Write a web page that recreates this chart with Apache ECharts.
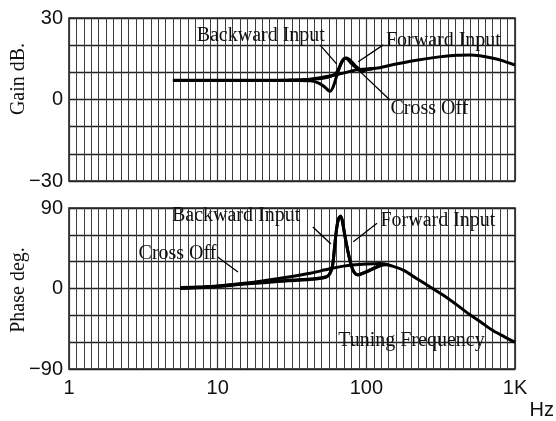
<!DOCTYPE html>
<html><head><meta charset="utf-8">
<script src="https://cdn.jsdelivr.net/npm/echarts@6/dist/echarts.min.js"></script>
<style>html,body{margin:0;padding:0;background:#fff}#c{width:556px;height:421px}</style>
</head><body><div id="c"></div>
<script>
// ---- data ----
const xTickValues = [1, 10, 100, 1000];
const xTickLabels = ['1', '10', '100', '1K'];
const gainTicks = [-30, 0, 30];
const phaseTicks = [-90, 0, 90];

// [frequency Hz, gain dB]
const gainCrossOff = [[5,7.0],[8,7.0],[12,7.0],[20,7.0],[30,7.1],[40,7.4],[50,8.1],[60,8.9],[70,9.7],[86,10.9],[100,11.2],[123,11.7],[150,12.8],[207,14.3],[300,15.6],[404,16.3],[500,16.4],[580,16.1],[700,15.3],[800,14.5],[1000,12.7]];
const gainBackward = [[5,7.0],[20,7.0],[35,7.0],[42,6.9],[47,6.2],[52,4.8],[57,3.0],[60,4.8],[63,8.5],[66,11.8],[69,14.3],[72,15.2],[75,14.8],[79,13.4],[85,11.8],[93,10.3],[100,10.9],[110,11.3]];
const gainForward = [[5,7.1],[30,7.2],[45,7.5],[55,8.2],[61,9.2],[64,10.5],[67,12.8],[70,14.6],[73,15.3],[76,14.9],[80,13.8],[86,12.0],[94,10.8],[105,11.2],[115,11.5]];

// [frequency Hz, phase deg]
const phaseCrossOff = [[5.6,0.5],[8,1.8],[10,2.8],[15,5.8],[20,8.5],[30,12.8],[42,17],[50,20],[60,23],[70,25],[80,26.3],[100,27.5],[125,28],[150,25],[180,20],[216,11.5],[250,5],[326,-7],[400,-17.5],[490,-28.5],[600,-38.5],[710,-47],[850,-54],[1000,-60]];
const phaseBackward = [[5.6,0],[8,1.2],[10,2.2],[15,5.0],[20,6.5],[30,8.8],[42,10],[50,11.5],[54,13],[57,17],[59.5,27],[61.5,50],[63.5,70],[65.5,79],[67.5,80],[69.5,72],[72.5,55],[76,38],[79.5,25],[83,18],[88,15],[96,17.5],[105,20.5],[115,23.5],[126,26.3],[140,26.5]];
const phaseForward = [[5.6,1],[10,2.5],[15,5.4],[20,7],[30,9.3],[42,10.5],[52,12.5],[56,15],[59,24],[61,45],[63,66],[65,78],[67,81],[69,76],[71.5,60],[75,42],[78.5,28],[82,19],[87,15.5],[95,17],[105,20],[118,24],[130,26.8]];

// annotations: [text, freq, value]
const gainNotes = [['Backward Input',19.5,23.4],['Forward Input',330,21.5],['Cross Off',266,-3.5]];
const gainLeaders = [[[48.7,20.1],[63.1,13.1]],[[130,20.1],[88.2,13.9]],[[144,-0.2],[88.2,10.9]]];
const phaseNotes = [['Backward Input',13.3,81],['Forward Input',303,75.5],['Cross Off',5.37,38.6],['Tuning Frequency',201,-58.7]];
const phaseLeaders = [[[43.7,68.8],[57.8,49.8]],[[118,72.9],[81.7,52.3]],[[10,35.2],[13.7,18.5]]];

// ---- chart ----
const SERIF = '"Liberation Serif","Times New Roman",serif';
const SANS = '"Liberation Sans",Arial,sans-serif';
const minus = v => v < 0 ? '\u2212' + Math.abs(v) : String(v);

function gridX(gi) {
  return {
    gridIndex: gi, type: 'value', min: 0, max: 3, interval: 1,
    axisLine: {show: false}, axisTick: {show: false}, axisLabel: {show: false},
    splitLine: {show: true, lineStyle: {color: '#333', width: 1.2}},
    minorTick: {show: false, splitNumber: 20},
    minorSplitLine: {show: true, lineStyle: {color: '#3c3c3c', width: 1}}
  };
}
function logX(gi, labels) {
  return {
    gridIndex: gi, type: 'log', logBase: 10, min: 1, max: 1000,
    axisLine: {show: false}, axisTick: {show: false}, splitLine: {show: false},
    axisLabel: {
      show: labels, fontFamily: SANS, fontSize: 20, color: '#111', margin: 9,
      formatter: v => { const i = xTickValues.indexOf(Math.round(v)); return i >= 0 ? xTickLabels[i] : ''; }
    }
  };
}
function yAx(gi, min, max, interval, ticks) {
  return {
    gridIndex: gi, type: 'value', min, max, interval,
    axisLine: {show: false}, axisTick: {show: false},
    axisLabel: {fontFamily: SANS, fontSize: 20, color: '#111', margin: 6,
      formatter: v => ticks.includes(v) ? minus(v) : ''},
    splitLine: {show: true, lineStyle: {color: '#222', width: 1.4}}
  };
}
function curve(data, xi, yi, extra) {
  return Object.assign({
    type: 'line', xAxisIndex: xi, yAxisIndex: yi, data, showSymbol: false,
    smooth: 0.3, animation: false, silent: true,
    lineStyle: {color: '#000', width: 3}
  }, extra || {});
}
function marks(notes, leaders) {
  return {
    markLine: {
      silent: true, animation: false, symbol: ['none', 'none'],
      lineStyle: {color: '#000', width: 1.3, type: 'solid'}, label: {show: false},
      data: leaders.map(l => [{coord: l[0]}, {coord: l[1]}])
    },
    markPoint: {
      silent: true, animation: false, symbol: 'circle', symbolSize: 1,
      itemStyle: {color: 'rgba(0,0,0,0)'},
      label: {show: true, position: 'inside', fontFamily: SERIF, fontSize: 20, color: '#111'},
      data: notes.map(n => ({coord: [n[1], n[2]], value: n[0], label: {formatter: n[0]}}))
    }
  };
}

const chart = echarts.init(document.getElementById('c'), null, {renderer: 'canvas'});
chart.setOption({
  backgroundColor: '#fff',
  animation: false,
  grid: [
    {left: 69, top: 18, width: 446, height: 163, show: true, borderColor: '#222', borderWidth: 1.6, backgroundColor: 'transparent'},
    {left: 69, top: 208, width: 446, height: 161, show: true, borderColor: '#222', borderWidth: 1.6, backgroundColor: 'transparent'}
  ],
  xAxis: [logX(0, false), gridX(0), logX(1, true), gridX(1)],
  yAxis: [yAx(0, -30, 30, 10, gainTicks), yAx(1, -90, 90, 30, phaseTicks)],
  graphic: [
    {type: 'text', x: 19, y: 79, rotation: Math.PI / 2,
      style: {text: 'Gain dB.', font: '20px ' + SERIF, fill: '#111', align: 'center', verticalAlign: 'middle', textAlign: 'center', textVerticalAlign: 'middle'}},
    {type: 'text', x: 19, y: 290, rotation: Math.PI / 2,
      style: {text: 'Phase deg.', font: '20px ' + SERIF, fill: '#111', align: 'center', verticalAlign: 'middle', textAlign: 'center', textVerticalAlign: 'middle'}},
    {type: 'text', x: 554, y: 410,
      style: {text: 'Hz', font: '20px ' + SANS, fill: '#111', align: 'right', verticalAlign: 'middle', textAlign: 'right', textVerticalAlign: 'middle'}}
  ],
  series: [
    curve(gainCrossOff, 0, 0, marks(gainNotes, gainLeaders)),
    curve(gainBackward, 0, 0),
    curve(gainForward, 0, 0),
    curve(phaseCrossOff, 2, 1, marks(phaseNotes, phaseLeaders)),
    curve(phaseBackward, 2, 1),
    curve(phaseForward, 2, 1)
  ]
});
</script>
</body></html>
